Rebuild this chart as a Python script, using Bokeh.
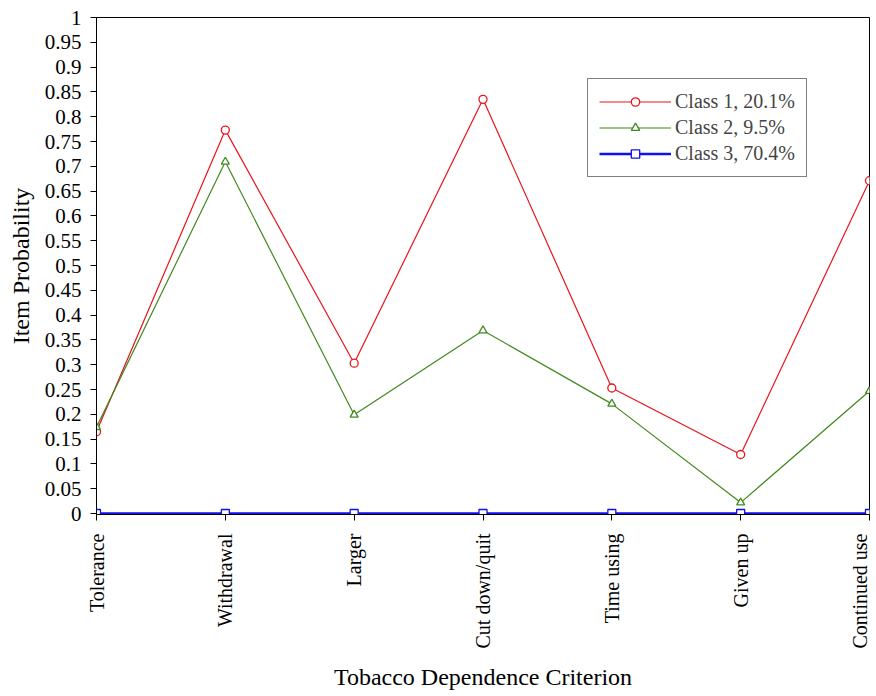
import math
from bokeh.plotting import figure
from bokeh.models import Range1d, FixedTicker, Legend, LegendItem
from bokeh.embed import file_html
from bokeh.resources import INLINE

categories = ["Tolerance", "Withdrawal", "Larger", "Cut down/quit",
              "Time using", "Given up", "Continued use"]
class1 = [0.165, 0.773, 0.303, 0.835, 0.253, 0.119, 0.671]
class2 = [0.174, 0.709, 0.199, 0.369, 0.221, 0.022, 0.247]
class3 = [0.0, 0.0, 0.0, 0.0, 0.0, 0.0, 0.0]
series_labels = ["Class 1, 20.1%", "Class 2, 9.5%", "Class 3, 70.4%"]
y_ticks = [0, 0.05, 0.1, 0.15, 0.2, 0.25, 0.3, 0.35, 0.4, 0.45, 0.5,
           0.55, 0.6, 0.65, 0.7, 0.75, 0.8, 0.85, 0.9, 0.95, 1]
y_tick_labels = ["0", "0.05", "0.1", "0.15", "0.2", "0.25", "0.3", "0.35", "0.4",
                 "0.45", "0.5", "0.55", "0.6", "0.65", "0.7", "0.75", "0.8",
                 "0.85", "0.9", "0.95", "1"]

FONT = "Liberation Serif"
x = list(range(len(categories)))

p = figure(width=870, height=696, output_backend="svg", toolbar_location=None,
           x_range=Range1d(0, len(categories) - 1), y_range=Range1d(-0.002, 1),
           min_border_left=96, min_border_top=17, min_border_right=1,
           min_border_bottom=182)
p.grid.visible = False
p.outline_line_color = "black"
p.outline_line_width = 1
p.background_fill_color = "white"
p.border_fill_color = "white"

colors = ["#e8141c", "#3f8a1e", "#1010f0"]
markers = ["circle", "triangle", "square"]
series = [class1, class2, class3]
items = []
for vals, c, m, lab in zip(series, colors, markers, series_labels):
    w = 2.5 if m == "square" else 1.2
    r1 = p.line(x, vals, line_color=c, line_width=w)
    r2 = p.scatter(x, vals, marker=m, size=8, line_color=c, fill_color="white",
                   line_width=1.3)
    items.append(LegendItem(label=lab, renderers=[r1, r2]))

legend = Legend(items=items, location=(491, 337),
                label_text_font=FONT, label_text_font_size="20px",
                label_height=21, glyph_height=21, glyph_width=72,
                spacing=3, padding=11, margin=0, label_standoff=4,
                border_line_color="black", border_line_width=1.5,
                background_fill_alpha=1)
p.add_layout(legend, "center")

# Axes
p.xaxis.ticker = FixedTicker(ticks=x)
p.xaxis.major_label_overrides = {i: c for i, c in enumerate(categories)}
p.xaxis.major_label_orientation = math.pi / 2
p.yaxis.ticker = FixedTicker(ticks=y_ticks)
p.yaxis.major_label_overrides = {t: l for t, l in zip(y_ticks, y_tick_labels)}
for ax in (p.xaxis, p.yaxis):
    ax.axis_line_color = "black"
    ax.major_tick_line_color = "black"
    ax.major_tick_out = 6
    ax.major_tick_in = 0
    ax.minor_tick_line_color = None
    ax.major_label_text_font = FONT
    ax.major_label_text_font_size = "20px"
    ax.major_label_text_color = "black"
    ax.axis_label_text_font = FONT
    ax.axis_label_text_font_size = "24px"
    ax.axis_label_text_font_style = "normal"
    ax.axis_label_text_color = "black"
p.yaxis.major_label_text_font_size = "21px"
p.xaxis.axis_label = "Tobacco Dependence Criterion"
p.yaxis.axis_label = "Item Probability"
p.yaxis.major_label_standoff = 9
p.yaxis.axis_label_standoff = 8
p.xaxis.major_label_standoff = 13
p.xaxis.axis_label_standoff = 12

open("out.html", "w").write(file_html(p, INLINE))
